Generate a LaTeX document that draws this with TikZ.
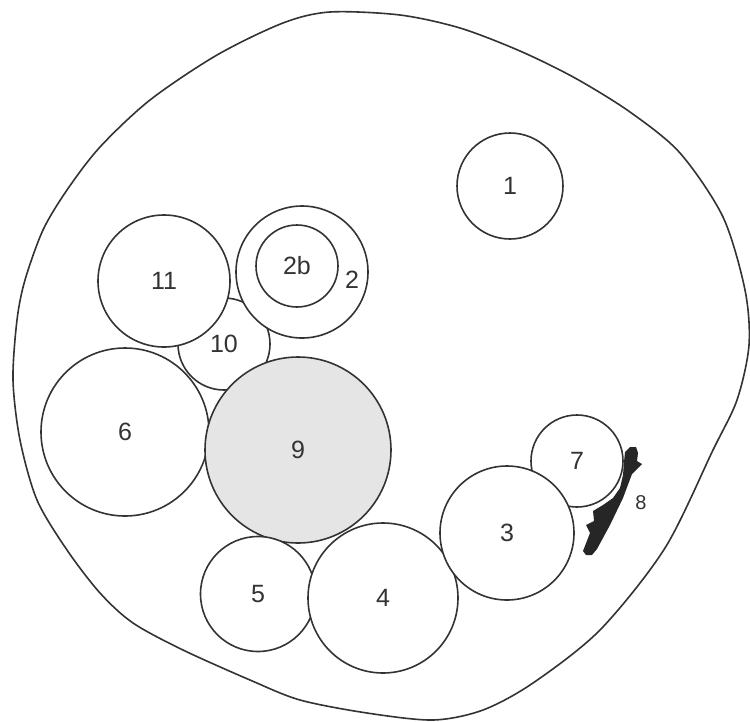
\documentclass[tikz,border=0pt]{standalone}
\usepackage{fontspec}
\setsansfont{Liberation Sans}
\definecolor{ink}{gray}{0.2}
\definecolor{shade}{gray}{0.9}
\tikzset{
  organ/.style={circle,draw=ink,fill=white,line width=1.6pt,inner sep=0pt,
    text=ink,font=\sffamily\fontsize{25}{25}\selectfont},
  tag/.style={text=ink,inner sep=0pt,font=\sffamily\fontsize{25}{25}\selectfont}
}
\begin{document}
\begin{tikzpicture}[x=1pt,y=-1pt]
    \useasboundingbox (0,0) rectangle (750,721);
    % outline of the section
    \draw[ink,line width=1.6pt] plot[smooth cycle,tension=0.5] coordinates {
      (330,12) (400,15) (460,28) (520,51) (575,78) (630,112) (680,153)
      (723,217) (745,290) (749,345) (737,400) (713,450) (665,548)
      (600,630) (533,683) (483,710) (433,720) (367,713) (300,700)
      (250,680) (183,650) (133,623) (100,593) (67,550) (37,500)
      (20,440) (13,380) (17,320) (25,280) (43,230) (67,190) (100,147)
      (150,100) (217,55) (283,23)};
    % circles, back to front
    \node[organ,minimum size=92pt] (n10) at (224,344) {10};
    \node[organ,minimum size=132pt] (n11) at (164,281) {11};
    \node[organ,minimum size=132pt] (n2) at (302,272) {};
    \node[organ,minimum size=82pt] (n2b) at (297,266) {2b};
    \node[tag] (l2) at (352,280) {2};
    \node[organ,minimum size=168pt] (n6) at (125,432) {6};
    \node[organ,fill=shade,minimum size=186pt] (n9) at (298,450) {9};
    \node[organ,minimum size=115pt] (n5) at (258,594) {5};
    \node[organ,minimum size=150pt] (n4) at (383,598) {4};
    \node[organ,minimum size=92pt] (n7) at (577,461) {7};
    \node[organ,minimum size=134pt] (n3) at (507,533) {3};
    \node[organ,minimum size=106pt] (n1) at (510,186) {1};
    % black bar 8
    \fill[black!85] (583,551) -- (590,533) -- (586,525) -- (594,521)
      -- (593,511) -- (603,505) -- (613,498) -- (620,488) -- (623,475)
      -- (624,462) -- (625,452) -- (630,447) -- (636,447) -- (638,453)
      -- (637,461) -- (642,464) -- (632,474) -- (623,498) -- (610,525)
      -- (597,549) -- (592,555) -- (586,555) -- cycle;
    \node[tag,font=\sffamily\fontsize{20}{20}\selectfont] (l8) at (641,503) {8};
\end{tikzpicture}
\end{document}
